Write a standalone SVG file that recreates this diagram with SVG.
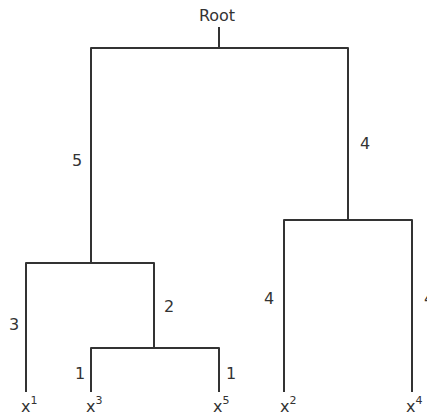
<svg xmlns="http://www.w3.org/2000/svg" width="427" height="412" viewBox="0 0 427 412">
<style>
.e{fill:none;stroke:#333;stroke-width:2;stroke-linejoin:round;stroke-linecap:butt}
.t{font-family:"DejaVu Sans","Liberation Sans",sans-serif;font-size:16px;fill:#333}
.s{font-size:11px}
</style>
<rect width="427" height="412" fill="#fff"/>
<g id="connectors">
<path class="e" d="M219,27V48"/>
<path class="e" d="M91,263V48H348V219"/>
<path class="e" d="M26,392V263H154V348"/>
<path class="e" d="M91,392V348H219V392"/>
<path class="e" d="M284,392V220H412V392"/>
<path class="e" d="M348,219V220"/>
</g>
<g id="edge-labels" class="t">
<text x="77" y="166" text-anchor="middle">5</text>
<text x="365" y="149" text-anchor="middle">4</text>
<text x="14" y="330" text-anchor="middle">3</text>
<text x="169" y="312" text-anchor="middle">2</text>
<text x="80" y="379" text-anchor="middle">1</text>
<text x="231" y="379" text-anchor="middle">1</text>
<text x="269" y="304" text-anchor="middle">4</text>
<text x="429" y="304" text-anchor="middle">4</text>
</g>
<g id="root"><text class="t" x="217" y="21" text-anchor="middle">Root</text></g>
<g id="x1"><text class="t" x="21" y="412">x<tspan class="s" dy="-8">1</tspan></text></g>
<g id="x3"><text class="t" x="86" y="412">x<tspan class="s" dy="-8">3</tspan></text></g>
<g id="x5"><text class="t" x="213" y="412">x<tspan class="s" dy="-8">5</tspan></text></g>
<g id="x2"><text class="t" x="280" y="412">x<tspan class="s" dy="-8">2</tspan></text></g>
<g id="x4"><text class="t" x="406" y="412">x<tspan class="s" dy="-8">4</tspan></text></g>
</svg>
